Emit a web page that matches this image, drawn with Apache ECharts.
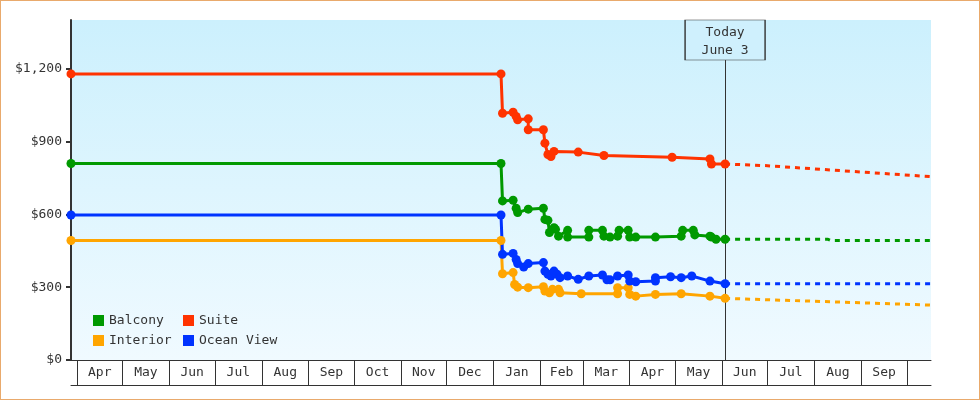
<!DOCTYPE html>
<html>
<head>
<meta charset="utf-8">
<title>Cabin prices</title>
<script src="https://cdn.jsdelivr.net/npm/echarts@6/dist/echarts.min.js"></script>
<style>
  html, body { margin: 0; padding: 0; background: #fff; }
  #wrap { position: relative; width: 980px; height: 400px; }
  #chart { width: 980px; height: 400px; }
  #wrap::after { content: ''; position: absolute; left: 0; top: 0; right: 0; bottom: 0; border: 1px solid #e9aa6c; pointer-events: none; }
</style>
</head>
<body>
<div id="wrap"><div id="chart"></div></div>
<script>
const FONT = 'DejaVu Sans Mono';
const INK = '#333';

const xStart = '2022-03-28';
const xEnd = '2023-10-17';
const today = '2023-06-03';

const monthStarts = ['2022-04-01', '2022-05-01', '2022-06-01', '2022-07-01', '2022-08-01', '2022-09-01',
  '2022-10-01', '2022-11-01', '2022-12-01', '2023-01-01', '2023-02-01', '2023-03-01', '2023-04-01',
  '2023-05-01', '2023-06-01', '2023-07-01', '2023-08-01', '2023-09-01', '2023-10-01'];
const monthNames = ['Apr', 'May', 'Jun', 'Jul', 'Aug', 'Sep', 'Oct', 'Nov', 'Dec',
  'Jan', 'Feb', 'Mar', 'Apr', 'May', 'Jun', 'Jul', 'Aug', 'Sep'];
const priceTicks = [0, 300, 600, 900, 1200];

const suite = [
  ['2022-03-28', 1178], ['2023-01-06', 1178], ['2023-01-07', 1016], ['2023-01-14', 1020],
  ['2023-01-16', 1003], ['2023-01-17', 989], ['2023-01-24', 993], ['2023-01-24', 948],
  ['2023-02-03', 948], ['2023-02-04', 893], ['2023-02-06', 846], ['2023-02-08', 838],
  ['2023-02-10', 859], ['2023-02-26', 856], ['2023-03-15', 842], ['2023-04-29', 835],
  ['2023-05-24', 828], ['2023-05-25', 807], ['2023-06-03', 807]
];
const balcony = [
  ['2022-03-28', 809], ['2023-01-06', 809], ['2023-01-07', 655], ['2023-01-14', 658],
  ['2023-01-16', 625], ['2023-01-17', 607], ['2023-01-24', 621], ['2023-02-03', 625],
  ['2023-02-04', 579], ['2023-02-06', 575], ['2023-02-07', 525], ['2023-02-10', 545],
  ['2023-02-11', 538], ['2023-02-13', 510], ['2023-02-19', 534], ['2023-02-19', 506],
  ['2023-03-05', 506], ['2023-03-05', 534], ['2023-03-14', 534], ['2023-03-15', 510],
  ['2023-03-19', 506], ['2023-03-24', 510], ['2023-03-25', 534], ['2023-03-31', 534],
  ['2023-04-01', 506], ['2023-04-05', 506], ['2023-04-18', 506], ['2023-05-05', 510],
  ['2023-05-06', 534], ['2023-05-13', 534], ['2023-05-14', 515], ['2023-05-24', 510],
  ['2023-05-25', 506], ['2023-05-28', 497], ['2023-06-03', 497]
];
const oceanView = [
  ['2022-03-28', 597], ['2023-01-06', 597], ['2023-01-07', 435], ['2023-01-14', 439],
  ['2023-01-16', 414], ['2023-01-17', 397], ['2023-01-21', 383], ['2023-01-24', 397],
  ['2023-02-03', 401], ['2023-02-04', 366], ['2023-02-06', 353], ['2023-02-08', 346],
  ['2023-02-10', 366], ['2023-02-12', 353], ['2023-02-14', 339], ['2023-02-19', 346],
  ['2023-02-26', 332], ['2023-03-05', 346], ['2023-03-14', 350], ['2023-03-17', 330],
  ['2023-03-19', 330], ['2023-03-24', 346], ['2023-03-31', 350], ['2023-04-01', 325],
  ['2023-04-05', 322], ['2023-04-18', 325], ['2023-04-18', 339], ['2023-04-28', 343],
  ['2023-05-05', 339], ['2023-05-12', 346], ['2023-05-24', 325], ['2023-06-03', 314]
];
const interior = [
  ['2022-03-28', 492], ['2023-01-06', 492], ['2023-01-07', 355], ['2023-01-14', 360],
  ['2023-01-15', 311], ['2023-01-17', 300], ['2023-01-24', 298], ['2023-02-03', 302],
  ['2023-02-04', 284], ['2023-02-07', 277], ['2023-02-09', 291], ['2023-02-13', 291],
  ['2023-02-14', 277], ['2023-02-28', 273], ['2023-03-24', 273], ['2023-03-24', 298],
  ['2023-03-31', 298], ['2023-04-01', 270], ['2023-04-05', 263], ['2023-04-18', 270],
  ['2023-05-05', 273], ['2023-05-24', 263], ['2023-06-03', 254]
];

// forecast after today (dotted)
const suiteFc = [['2023-06-03', 807], ['2023-07-01', 800], ['2023-10-17', 755]];
const balconyFc = [['2023-06-03', 497], ['2023-08-10', 497], ['2023-08-12', 492], ['2023-10-17', 492]];
const oceanViewFc = [['2023-06-03', 314], ['2023-10-17', 314]];
const interiorFc = [['2023-06-03', 254], ['2023-10-17', 226]];

const COLORS = { Balcony: '#009900', Suite: '#ff3300', Interior: '#ffa500', 'Ocean View': '#0033ff' };

function ts(s) {
  const p = s.split('-').map(Number);
  return new Date(p[0], p[1] - 1, p[2]).getTime();
}
const tickAt = monthStarts.map(ts);
const labelAt = monthNames.map((_, i) => Math.round((tickAt[i] + tickAt[i + 1]) / 2));

function monthLabel(v) {
  let best = -1, bestD = Infinity;
  labelAt.forEach((t, i) => {
    const d = Math.abs(t - v);
    if (d < bestD) { bestD = d; best = i; }
  });
  return bestD < 86400000 ? monthNames[best] : '';
}

function toPts(arr) {
  return arr.map((d) => [ts(d[0]), d[1]]);
}

function hist(name, data) {
  const c = COLORS[name];
  return {
    name, type: 'line', data: toPts(data),
    symbol: 'circle', symbolSize: 9,
    lineStyle: { color: c, width: 3 },
    itemStyle: { color: c },
    emphasis: { disabled: true },
    animation: false,
  };
}

function forecast(name, data) {
  const c = COLORS[name];
  return {
    name: name + ' forecast', type: 'line', data: toPts(data),
    symbol: 'none',
    lineStyle: { color: c, width: 3, type: [5, 5] },
    itemStyle: { color: c },
    emphasis: { disabled: true },
    animation: false,
  };
}

const chart = echarts.init(document.getElementById('chart'));

const fcSuite = forecast('Suite', suiteFc);
fcSuite.markLine = {
  silent: true,
  symbol: ['none', 'none'],
  z: 1,
  animation: false,
  lineStyle: { color: INK, width: 1, type: 'solid' },
  label: { show: false },
  data: [[{ coord: [ts(today), 0] }, { coord: [ts(today), 1235] }]],
};
fcSuite.markPoint = {
  silent: true,
  animation: false,
  symbol: 'rect',
  symbolSize: [80, 40],
  symbolOffset: [0, 20],
  itemStyle: { color: '#cff0fd', borderColor: INK, borderWidth: 1 },
  label: {
    show: true, position: 'inside', formatter: 'Today\nJune 3',
    offset: [0, 2],
    color: INK, fontFamily: FONT, fontSize: 13, lineHeight: 18,
  },
  data: [{ coord: [ts(today), 1400] }],
};

const legendBase = {
  orient: 'vertical',
  top: 314,
  padding: 0,
  itemWidth: 11,
  itemHeight: 11,
  itemGap: 7,
  icon: 'rect',
  selectedMode: false,
  textStyle: { color: INK, fontFamily: FONT, fontSize: 13 },
};

chart.setOption({
  animation: false,
  textStyle: { fontFamily: FONT },
  grid: {
    left: 71, right: 49, top: 20, bottom: 40,
    show: true,
    borderWidth: 0,
    outerBoundsMode: 'none',
    backgroundColor: new echarts.graphic.LinearGradient(0, 0, 0, 1, [
      { offset: 0, color: '#ccf0fd' },
      { offset: 1, color: '#f0faff' },
    ]),
  },
  legend: [
    Object.assign({}, legendBase, { left: 93, data: ['Balcony', 'Interior'] }),
    Object.assign({}, legendBase, { left: 183, data: ['Suite', 'Ocean View'] }),
  ],
  xAxis: [
    {
      type: 'value',
      min: ts(xStart),
      max: ts(xEnd),
      axisLine: { show: true, onZero: false, lineStyle: { color: INK, width: 1 } },
      axisTick: { show: true, customValues: tickAt, length: 25, lineStyle: { color: INK, width: 1 } },
      axisLabel: {
        customValues: labelAt,
        formatter: monthLabel,
        margin: 6,
        color: INK,
        fontFamily: FONT,
        fontSize: 13,
        hideOverlap: false,
        showMinLabel: true,
        showMaxLabel: true,
      },
      splitLine: { show: false },
    },
    {
      type: 'value',
      min: ts(xStart),
      max: ts(xEnd),
      position: 'bottom',
      offset: 25,
      axisLine: { show: true, onZero: false, lineStyle: { color: INK, width: 1 } },
      axisTick: { show: false },
      axisLabel: { show: false },
      splitLine: { show: false },
    },
  ],
  yAxis: {
    type: 'value',
    min: 0,
    max: 1400,
    axisLine: { show: true, onZero: false, lineStyle: { color: INK, width: 2 } },
    axisTick: { show: true, customValues: priceTicks, length: 5, lineStyle: { color: INK, width: 2 } },
    axisLabel: {
      customValues: priceTicks,
      margin: 9,
      color: INK,
      fontFamily: FONT,
      fontSize: 13,
      formatter: (v) => '$' + Number(v).toLocaleString('en-US'),
    },
    splitLine: { show: false },
  },
  series: [
    fcSuite,
    forecast('Balcony', balconyFc),
    forecast('Interior', interiorFc),
    forecast('Ocean View', oceanViewFc),
    hist('Interior', interior),
    hist('Ocean View', oceanView),
    hist('Balcony', balcony),
    hist('Suite', suite),
  ],
});
</script>
</body>
</html>
